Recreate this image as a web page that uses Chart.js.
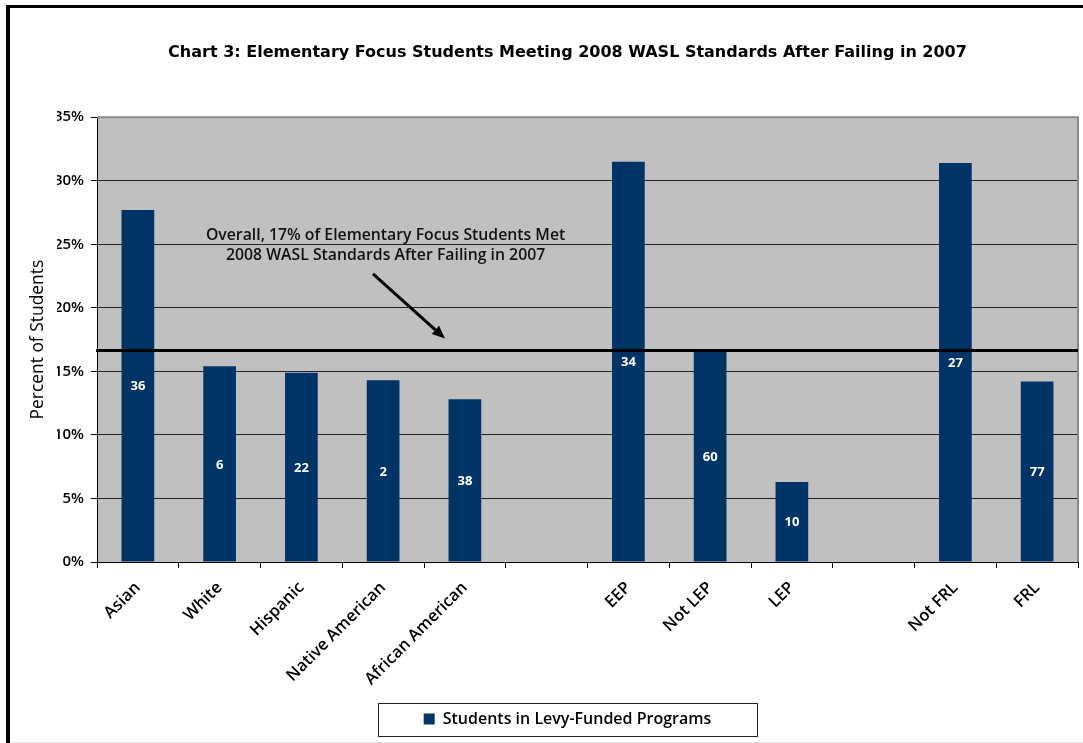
<!DOCTYPE html>
<html>
<head>
<meta charset="utf-8">
<script src="https://cdn.jsdelivr.net/npm/chart.js@4.4.1/dist/chart.umd.min.js"></script>
<style>
  html, body { margin: 0; padding: 0; background: #fff; }
  #wrap { position: relative; width: 1083px; height: 743px; }
</style>
</head>
<body>
<div id="wrap"><canvas id="c" width="1083" height="743"></canvas></div>
<script>
// ---- data ----
const categories = ['Asian', 'White', 'Hispanic', 'Native American', 'African American', '',
                    'EEP', 'Not LEP', 'LEP', '', 'Not FRL', 'FRL'];
const percentMet = [27.7, 15.4, 14.9, 14.3, 12.8, null, 31.5, 16.6, 6.3, null, 31.4, 14.2];
const studentCounts = ['36', '6', '22', '2', '38', '', '34', '60', '10', '', '27', '77'];
const yTicks = [0, 5, 10, 15, 20, 25, 30, 35];
const overallPercent = 16.7;
const seriesName = 'Students in Levy-Funded Programs';
const chartTitle = 'Chart 3: Elementary Focus Students Meeting 2008 WASL Standards After Failing in 2007';
const yAxisTitle = 'Percent of Students';
const annotationLines = ['Overall, 17% of Elementary Focus Students Met', '2008 WASL Standards After Failing in 2007'];

const FONT = "'Open Sans', 'DejaVu Sans', sans-serif";
const WIDE = "'DejaVu Sans', sans-serif";

const framePlugin = {
  id: 'frame',
  beforeDraw(chart) {
    const { ctx, chartArea: a } = chart;
    ctx.save();
    ctx.fillStyle = '#000';
    ctx.fillRect(6, 5, 4, 743);
    ctx.fillRect(6, 5, 1083, 3);
    ctx.fillStyle = '#e6e6e6';
    ctx.fillRect(10, 742, 1073, 1);
    ctx.fillStyle = '#C0C0C0';
    ctx.fillRect(a.left, a.top, a.right - a.left, a.bottom - a.top);
    ctx.restore();
  },
  afterDatasetsDraw(chart) {
    const { ctx, chartArea: a, scales } = chart;
    const ys = scales.y;
    ctx.save();
    ctx.strokeStyle = '#8a8a8a';
    ctx.lineWidth = 2;
    ctx.beginPath();
    ctx.moveTo(a.left, a.top);
    ctx.lineTo(a.right, a.top);
    ctx.lineTo(a.right, a.bottom);
    ctx.stroke();

    const meta = chart.getDatasetMeta(0);
    ctx.fillStyle = '#fff';
    ctx.font = "bold 13px " + FONT;
    ctx.textAlign = 'center';
    ctx.textBaseline = 'middle';
    meta.data.forEach((bar, i) => {
      if (percentMet[i] == null || !studentCounts[i]) return;
      ctx.fillText(studentCounts[i], bar.x, (bar.y + bar.base) / 2 + 1);
    });

    const yl = Math.round(ys.getPixelForValue(overallPercent)) + 0.5;
    ctx.strokeStyle = '#000';
    ctx.lineWidth = 3;
    ctx.beginPath();
    ctx.moveTo(a.left - 1, yl);
    ctx.lineTo(a.right, yl);
    ctx.stroke();

    const catW = (a.right - a.left) / categories.length;
    const px = (idx) => a.left + (idx + 0.5) * catW;
    ctx.fillStyle = '#111';
    ctx.font = "600 15.8px " + FONT;
    ctx.textAlign = 'center';
    ctx.textBaseline = 'middle';
    ctx.fillText(annotationLines[0], px(3.03), ys.getPixelForValue(25.7));
    ctx.fillText(annotationLines[1], px(3.03), ys.getPixelForValue(24.1));

    const x1 = px(2.876), y1 = ys.getPixelForValue(22.68);
    const x2 = px(3.757), y2 = ys.getPixelForValue(17.58);
    const ang = Math.atan2(y2 - y1, x2 - x1);
    const hl = 13, hw = 5.5;
    const bx = x2 - hl * Math.cos(ang), by = y2 - hl * Math.sin(ang);
    ctx.strokeStyle = '#000';
    ctx.lineWidth = 3;
    ctx.beginPath();
    ctx.moveTo(x1, y1);
    ctx.lineTo(bx, by);
    ctx.stroke();
    ctx.fillStyle = '#000';
    ctx.beginPath();
    ctx.moveTo(x2, y2);
    ctx.lineTo(bx + hw * Math.sin(ang), by - hw * Math.cos(ang));
    ctx.lineTo(bx - hw * Math.sin(ang), by + hw * Math.cos(ang));
    ctx.closePath();
    ctx.fill();
    ctx.restore();
  },
  afterDraw(chart) {
    const lg = chart.legend;
    if (!lg || !lg.legendHitBoxes || !lg.legendHitBoxes.length) return;
    const hb = lg.legendHitBoxes[0];
    const cx = hb.left + hb.width / 2;
    const { ctx } = chart;
    ctx.save();
    ctx.strokeStyle = '#222';
    ctx.lineWidth = 1;
    const w = 379;
    ctx.strokeRect(Math.round(cx - w / 2) + 0.5, 703.5, w, 33);
    ctx.restore();
  }
};

new Chart(document.getElementById('c'), {
  type: 'bar',
  data: {
    labels: categories,
    datasets: [{
      label: seriesName,
      data: percentMet,
      backgroundColor: '#003366',
      borderWidth: 0,
      barPercentage: 0.4,
      categoryPercentage: 1.0
    }]
  },
  options: {
    responsive: false,
    animation: false,
    devicePixelRatio: 1,
    layout: { padding: { left: 57, right: 5, top: 0, bottom: 6 } },
    plugins: {
      title: {
        display: true,
        text: chartTitle,
        color: '#000',
        font: { family: WIDE, size: 16, weight: 'bold' },
        padding: { top: 43, bottom: 55 }
      },
      legend: {
        display: true,
        position: 'bottom',
        labels: {
          color: '#000',
          font: { family: FONT, size: 16, weight: '600' },
          boxWidth: 11,
          boxHeight: 11,
          padding: 10
        }
      },
      tooltip: { enabled: false }
    },
    scales: {
      x: {
        offset: true,
        grid: {
          display: true,
          offset: true,
          drawOnChartArea: false,
          drawTicks: true,
          tickLength: 6,
          color: '#000'
        },
        border: { display: true, color: '#000', width: 1 },
        ticks: {
          autoSkip: false,
          maxRotation: 45,
          minRotation: 45,
          padding: 10,
          color: '#000',
          font: { family: FONT, size: 16.5, weight: '600' }
        },
        afterFit(s) { s.height = 139; }
      },
      y: {
        min: 0,
        max: 35,
        afterBuildTicks(s) { s.ticks = yTicks.map(v => ({ value: v })); },
        grid: {
          color: '#222',
          lineWidth: 1,
          drawTicks: true,
          tickLength: 6,
          tickColor: '#000'
        },
        border: { display: true, color: '#000', width: 1 },
        ticks: {
          padding: 7,
          color: '#000',
          font: { family: FONT, size: 15, weight: '600' },
          callback: (v) => v + '%'
        },
        title: {
          display: true,
          text: yAxisTitle,
          color: '#000',
          font: { family: FONT, size: 17.4, weight: 'normal' },
          padding: { top: -29, bottom: 0 }
        },
        afterFit(s) { s.width = 40; }
      }
    }
  },
  plugins: [framePlugin]
});
</script>
</body>
</html>
